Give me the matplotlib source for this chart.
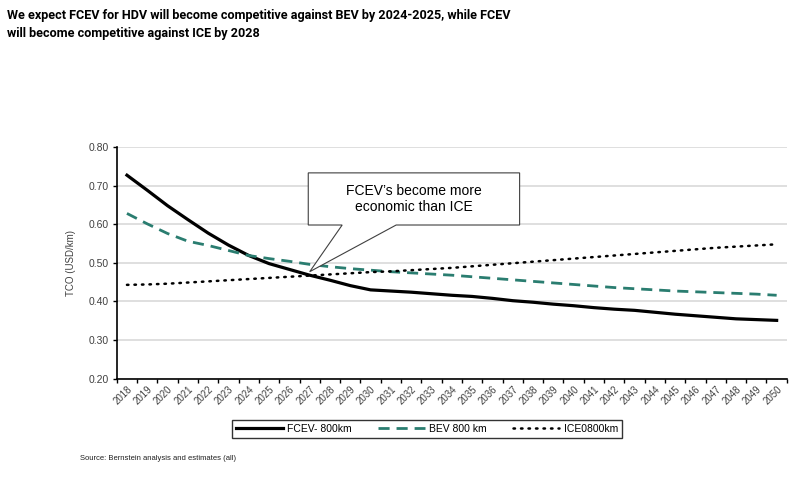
import os
import numpy as np
import matplotlib
matplotlib.use("Agg")
import matplotlib.pyplot as plt
from matplotlib.patches import Polygon
from matplotlib.font_manager import FontProperties

plt.rcParams["font.family"] = ["Liberation Sans", "DejaVu Sans"]

# Data
years = [str(y) for y in range(2018, 2051)]
fcev = [0.727, 0.688, 0.648, 0.612, 0.577, 0.546, 0.519, 0.498, 0.483,
        0.468, 0.455, 0.441, 0.430, 0.427, 0.424, 0.420, 0.416, 0.413,
        0.408, 0.402, 0.398, 0.393, 0.389, 0.384, 0.380, 0.377, 0.372,
        0.367, 0.363, 0.359, 0.355, 0.353, 0.351]
bev = [0.628, 0.601, 0.576, 0.556, 0.545, 0.532, 0.519, 0.511, 0.504,
       0.496, 0.490, 0.485, 0.481, 0.477, 0.474, 0.471, 0.468, 0.464,
       0.460, 0.456, 0.452, 0.448, 0.444, 0.440, 0.436, 0.433, 0.430,
       0.427, 0.425, 0.423, 0.421, 0.419, 0.416]
ice = [0.443, 0.444, 0.446, 0.449, 0.452, 0.455, 0.458, 0.461, 0.464,
       0.467, 0.470, 0.473, 0.476, 0.478, 0.481, 0.484, 0.487, 0.491,
       0.495, 0.499, 0.503, 0.507, 0.511, 0.515, 0.519, 0.523, 0.527,
       0.531, 0.535, 0.539, 0.542, 0.545, 0.548]
series_labels = ["FCEV- 800km", "BEV 800 km", "ICE0800km"]
yticks = [0.20, 0.30, 0.40, 0.50, 0.60, 0.70, 0.80]
title = ("We expect FCEV for HDV will become competitive against BEV by 2024-2025, while FCEV\n"
         "will become competitive against ICE by 2028")

fig = plt.figure(figsize=(8, 4.98), dpi=100)
ax = fig.add_axes([0.146, 0.2396, 0.8375, 0.4652])

x = np.arange(len(years))
teal = "#2a7d70"
ax.plot(x, fcev, color="black", lw=2.3, label=series_labels[0], zorder=3)
ax.plot(x, bev, color=teal, lw=2.0, dashes=(4, 2.5), label=series_labels[1], zorder=3)
ax.plot(x, ice, color="black", lw=1.8, dashes=(0.6, 2.4), dash_capstyle="round",
        label=series_labels[2], zorder=3)

ax.set_xlim(-0.5, len(years) - 0.5)
ax.set_ylim(0.2, 0.8)
ax.set_yticks(yticks)
ax.set_yticklabels([f"{v:.2f}" for v in yticks], fontsize=7.5, color="#404040")
ax.set_xticks(x)
ax.set_xticklabels(years, rotation=45, ha="right", va="top", rotation_mode="anchor",
                   fontsize=7, color="#404040")
ax.tick_params(axis="x", length=0, pad=4)
ax.set_xticks(np.arange(-0.5, len(years)), minor=True)
ax.tick_params(axis="x", which="minor", length=3, direction="out", width=1)
ax.tick_params(axis="y", length=3, direction="out", width=1, pad=3)

ax.set_ylabel("TCO (USD/km)", fontsize=7, color="#404040", labelpad=9)
ax.grid(axis="y", color="#d9d9d9", lw=1.2)
ax.set_axisbelow(True)
for s in ["top", "right"]:
    ax.spines[s].set_visible(False)
ax.spines["left"].set_linewidth(1.2)
ax.spines["bottom"].set_linewidth(1.2)

# Callout box with pointer
callout = Polygon([(8.93, 0.733), (19.34, 0.733), (19.34, 0.598), (13.26, 0.598),
                   (9.0, 0.477), (10.6, 0.598), (8.93, 0.598)],
                  closed=True, facecolor="white", edgecolor="#404040", lw=0.8, zorder=4)
ax.add_patch(callout)
ax.text(14.13, 0.666, "FCEV\u2019s become more\neconomic than ICE", ha="center", va="center",
        fontsize=10, color="black", linespacing=1.2, zorder=5)

leg = fig.legend(loc="center", bbox_to_anchor=(427 / 800, 1 - 429 / 498), ncol=3,
                 fontsize=7.5, frameon=True, fancybox=False, edgecolor="black",
                 handlelength=4.5, columnspacing=2.5, handletextpad=0.4,
                 borderpad=0.4)
leg.get_frame().set_linewidth(1.0)

# Title: the reference uses a narrow bold face; pick the narrowest installed
# bold sans and size it so the first line is close to the reference width
fig.canvas.draw()
best = None
for fam in ["Roboto", "Lato", "Liberation Sans", "Noto Sans"]:
    fp = FontProperties(family=fam, weight="bold", size=11)
    probe = fig.text(0, 0, title.split("\n")[0], fontproperties=fp)
    w = probe.get_window_extent().width
    probe.remove()
    if best is None or w < best[1]:
        best = (fam, w)
size = min(11.5, 11 * 505 / best[1])
title_fp = FontProperties(family=best[0], weight="bold", size=size)
fig.text(0.009, 0.982, title, ha="left", va="top", fontproperties=title_fp,
         linespacing=1.5)

fig.text(0.1, 1 - 458 / 498, "Source: Bernstein analysis and estimates (all)",
         ha="left", va="center", fontsize=5.5, color="#202020")

fig.savefig("out.png", dpi=100)
